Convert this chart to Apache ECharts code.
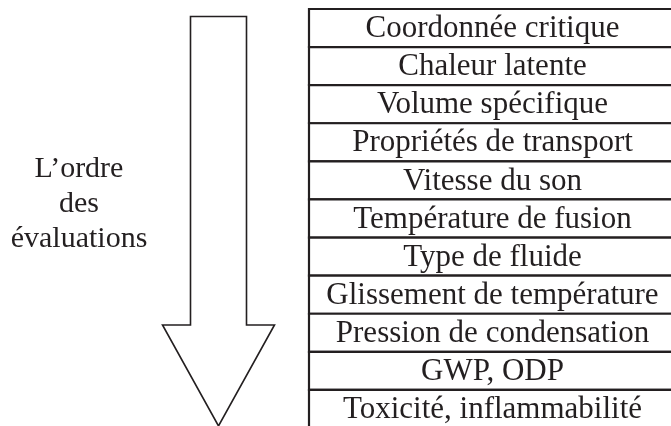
<!DOCTYPE html>
<html>
<head>
<meta charset="utf-8">
<style>
  html, body { margin: 0; padding: 0; background: #fff; }
  #chart { width: 671px; height: 426px; }
</style>
<script src="https://cdn.jsdelivr.net/npm/echarts@6/dist/echarts.min.js"></script>
</head>
<body>
<div id="chart"></div>
<script>
// critères, de haut en bas
const criteria = [
    'Coordonnée critique',
    'Chaleur latente',
    'Volume spécifique',
    'Propriétés de transport',
    'Vitesse du son',
    'Température de fusion',
    'Type de fluide',
    'Glissement de température',
    'Pression de condensation',
    'GWP, ODP',
    'Toxicité, inflammabilité'
];
const sideLabel = ['L\u2019ordre', 'des', 'évaluations'];

const ink = '#231f20';
const font = '"Liberation Serif", "Times New Roman", serif';

const chart = echarts.init(document.getElementById('chart'));

const option = {
    animation: false,
    grid: { left: 309, top: 9, width: 367, height: 419, outerBoundsMode: 'none' },
    xAxis: { type: 'value', min: 0, max: 1, show: false },
    yAxis: { type: 'category', data: criteria, inverse: true, show: false },
    graphic: [
        {
            // la flèche
            type: 'polygon',
            shape: {
                points: [[190.5, 16.5], [246.5, 16.5], [246.5, 325], [274.5, 325],
                         [218.5, 426], [162.5, 325], [190.5, 325]]
            },
            style: { fill: '#fff', stroke: ink, lineWidth: 1.6 }
        },
        {
            type: 'text',
            x: 79,
            y: 152,
            style: {
                text: sideLabel.join('\n'),
                font: '30px ' + font,
                lineHeight: 35,
                fill: ink,
                align: 'center'
            }
        }
    ],
    series: [{
        type: 'custom',
        clip: false,
        data: criteria.map(function (c) { return [0, c]; }),
        encode: { x: 0, y: 1 },
        renderItem: function (params, api) {
            const row = api.value(1);
            const p0 = api.coord([0, row]);
            const p1 = api.coord([1, row]);
            const h = api.size([0, 1])[1];
            return {
                type: 'group',
                children: [
                    {
                        type: 'rect',
                        shape: { x: p0[0], y: p0[1] - h / 2, width: p1[0] - p0[0], height: h },
                        style: { fill: '#fff', stroke: ink, lineWidth: 2.2 }
                    },
                    {
                        type: 'text',
                        style: {
                            text: criteria[params.dataIndex],
                            x: (p0[0] + p1[0]) / 2,
                            y: p0[1] + 1,
                            align: 'center',
                            verticalAlign: 'middle',
                            font: '31px ' + font,
                            fill: ink
                        }
                    }
                ]
            };
        }
    }]
};

chart.setOption(option);

window.addEventListener('resize', function () {
    chart.resize();
});
</script>
</body>
</html>
